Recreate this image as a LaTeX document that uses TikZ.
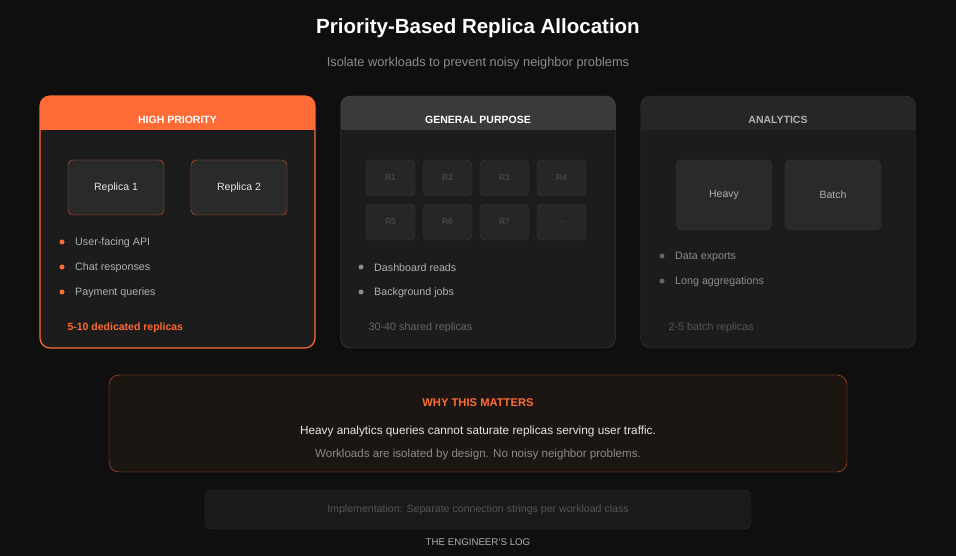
\documentclass[tikz,border=0pt]{standalone}
\usepackage{fontspec}
\setmainfont{Liberation Sans}
\usetikzlibrary{positioning}

\definecolor{bg}{HTML}{0F0F0F}
\definecolor{accent}{HTML}{FF6B35}
\definecolor{accentdk}{HTML}{D9582B}
\definecolor{cardbg}{HTML}{1C1C1C}
\definecolor{boxbg}{HTML}{2A2A2A}
\definecolor{gridbg}{HTML}{262626}
\definecolor{gridline}{HTML}{3A3A3A}
\definecolor{whybg}{HTML}{1B1612}
\definecolor{genhead}{HTML}{3A3A3A}
\definecolor{anahead}{HTML}{262626}
\definecolor{genline}{HTML}{4A4A4A}
\definecolor{analine}{HTML}{343434}
\definecolor{txtlight}{HTML}{E6E6E6}
\definecolor{txtmid}{HTML}{B0B0B0}
\definecolor{txtdim}{HTML}{8C8C8C}
\definecolor{txtfaint}{HTML}{666666}
\definecolor{txtdark}{HTML}{555555}
\definecolor{implbg}{HTML}{1A1A1A}
\definecolor{implline}{HTML}{2E2E2E}

\begin{document}
\begin{tikzpicture}[
    x=1pt, y=-1pt,
    card/.style={rectangle, rounded corners=10pt, minimum width=275pt, minimum height=252pt, fill=cardbg, outer sep=0pt},
    hdr/.style={font=\bfseries\fontsize{10.5}{12}\selectfont},
    replica/.style={rectangle, rounded corners=5pt, draw=accentdk, fill=boxbg, minimum width=96pt, minimum height=55pt, outer sep=0pt, font=\fontsize{10.5}{12}\selectfont, text=txtlight},
    rbox/.style={rectangle, rounded corners=5pt, draw=gridline, fill=gridbg, minimum width=49pt, minimum height=36pt, outer sep=0pt, font=\fontsize{8.5}{10}\selectfont, text=txtdark},
    abox/.style={rectangle, rounded corners=6pt, draw=analine, fill=boxbg, minimum width=96pt, minimum height=70pt, outer sep=0pt, font=\fontsize{10.5}{12}\selectfont, text=txtmid},
    dot/.style={circle, inner sep=0pt, minimum size=5pt},
    item/.style={right=7pt of #1, yshift=-1pt, font=\fontsize{10.7}{12}\selectfont},
    note/.style={anchor=west, font=\fontsize{10.8}{12}\selectfont}
]
    \useasboundingbox[fill=bg] (0,0) rectangle (956,556);

    \node[font=\bfseries\fontsize{20.5}{24}\selectfont, text=white] (title) at (478,28) {Priority-Based Replica Allocation};
    \node[font=\fontsize{12.8}{15}\selectfont, text=txtdim] (subtitle) at (478,63) {Isolate workloads to prevent noisy neighbor problems};

    % three workload classes
    \node[card] (high) at (177.5,222) {};
    \node[card] (general) at (478,222) {};
    \node[card] (analytics) at (778,222) {};

    \begin{scope}
        \clip[rounded corners=10pt] (high.north west) rectangle (high.south east);
        \fill[accent] (high.north west) rectangle ([yshift=-34pt]high.north east);
    \end{scope}
    \begin{scope}
        \clip[rounded corners=10pt] (general.north west) rectangle (general.south east);
        \fill[genhead] (general.north west) rectangle ([yshift=-34pt]general.north east);
    \end{scope}
    \begin{scope}
        \clip[rounded corners=10pt] (analytics.north west) rectangle (analytics.south east);
        \fill[anahead] (analytics.north west) rectangle ([yshift=-34pt]analytics.north east);
    \end{scope}
    \draw[accent, line width=1.2pt, rounded corners=10pt] (high.north west) rectangle (high.south east);
    \draw[genline, rounded corners=10pt] (general.north west) rectangle (general.south east);
    \draw[analine, rounded corners=10pt] (analytics.north west) rectangle (analytics.south east);

    \node[hdr, text=white, below=17pt of high.north] (highhd) {HIGH PRIORITY};
    \node[hdr, text=white, below=17pt of general.north] (generalhd) {GENERAL PURPOSE};
    \node[hdr, text=txtmid, below=17pt of analytics.north] (analyticshd) {ANALYTICS};

    % high priority
    \node[replica] (rep1) at (116,187.5) {Replica 1};
    \node[replica, right=27pt of rep1] (rep2) {Replica 2};

    \node[dot, fill=accent] (hd1) at (62,242) {};
    \node[dot, fill=accent] (hd2) at (62,267) {};
    \node[dot, fill=accent] (hd3) at (62,292) {};
    \node[item=hd1, text=txtmid] (hi1) {User-facing API};
    \node[item=hd2, text=txtmid] (hi2) {Chat responses};
    \node[item=hd3, text=txtmid] (hi3) {Payment queries};
    \node[note, font=\bfseries\fontsize{10.5}{12}\selectfont, text=accent] (highnote) at (64,327.5) {5-10 dedicated replicas};

    % general purpose
    \node[rbox] (r1) at (390.5,178) {R1};
    \node[rbox, right=8pt of r1] (r2) {R2};
    \node[rbox, right=8pt of r2] (r3) {R3};
    \node[rbox, right=8pt of r3] (r4) {R4};
    \node[rbox, below=8pt of r1] (r5) {R5};
    \node[rbox, right=8pt of r5] (r6) {R6};
    \node[rbox, right=8pt of r6] (r7) {R7};
    \node[rbox, right=8pt of r7] (rmore) {...};

    \node[dot, fill=txtdim] (gd1) at (361,267) {};
    \node[dot, fill=txtdim] (gd2) at (361,292) {};
    \node[item=gd1, text=txtmid] (gi1) {Dashboard reads};
    \node[item=gd2, text=txtmid] (gi2) {Background jobs};
    \node[note, text=txtfaint] (generalnote) at (365,327.5) {30-40 shared replicas};

    % analytics
    \node[abox] (heavy) at (724,195) {Heavy};
    \node[abox, right=13pt of heavy] (batch) {Batch};

    \node[dot, fill=txtfaint] (ad1) at (662,256) {};
    \node[dot, fill=txtfaint] (ad2) at (662,281) {};
    \node[item=ad1, text=txtdim] (ai1) {Data exports};
    \node[item=ad2, text=txtdim] (ai2) {Long aggregations};
    \node[note, text=txtdark] (analyticsnote) at (665,327.5) {2-5 batch replicas};

    % why this matters
    \node[rectangle, rounded corners=10pt, draw=accentdk, fill=whybg, minimum width=738pt, minimum height=97pt] (why) at (478,423.5) {};
    \node[font=\bfseries\fontsize{11.2}{13}\selectfont, text=accent] (whyhd) at (478,403) {WHY THIS MATTERS};
    \node[font=\fontsize{11.8}{14}\selectfont, text=txtlight] (why1) at (478,431.5) {Heavy analytics queries cannot saturate replicas serving user traffic.};
    \node[font=\fontsize{11.6}{14}\selectfont, text=txtdim] (why2) at (478,454.5) {Workloads are isolated by design. No noisy neighbor problems.};

    \node[rectangle, rounded corners=7pt, draw=implline, fill=implbg, minimum width=546pt, minimum height=39pt, font=\fontsize{10.6}{12}\selectfont, text=txtdark] (impl) at (478,509.5) {Implementation: Separate connection strings per workload class};
    \node[font=\fontsize{9.7}{11}\selectfont, text=txtmid] (footer) at (478,542) {THE ENGINEER'S LOG};
\end{tikzpicture}
\end{document}
